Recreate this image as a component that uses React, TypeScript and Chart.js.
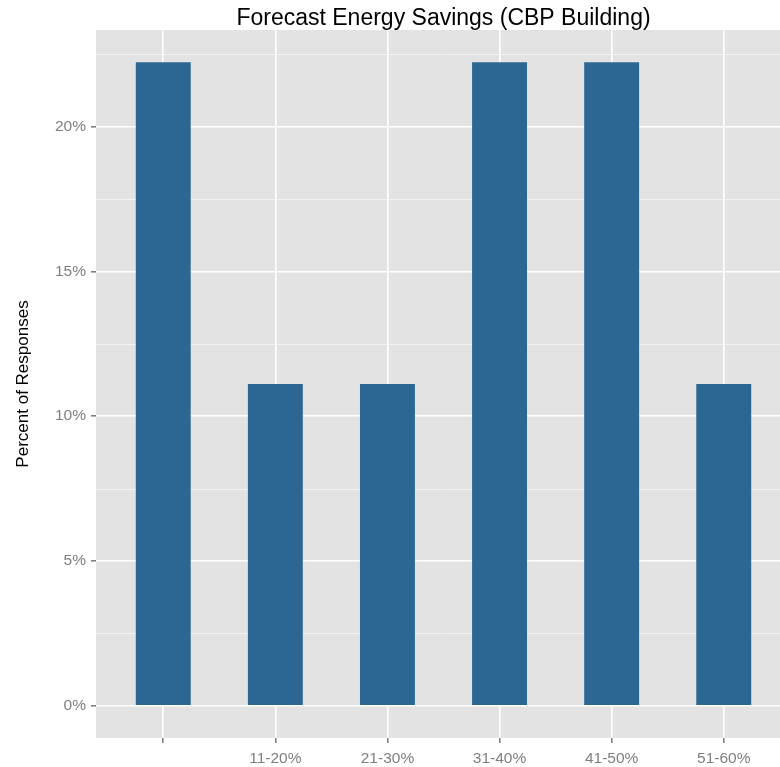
import React, { useEffect, useRef } from "react";
import { Chart, registerables } from "chart.js";

Chart.register(...registerables);

const categories = ["", "11-20%", "21-30%", "31-40%", "41-50%", "51-60%"];
const percentValues = [22.22, 11.11, 11.11, 22.22, 22.22, 11.11];
const yTicks = [0, 5, 10, 15, 20];
const yMinorTicks = [2.5, 7.5, 12.5, 17.5, 22.5];
const titleText = "Forecast Energy Savings (CBP Building)";
const yAxisTitle = "Percent of Responses";

const FONT = '"Liberation Sans", Arial, Helvetica, sans-serif';
const PANEL_BG = "#E3E3E3";
const BAR_COLOR = "#2C6794";
const TICK_COLOR = "#7F7F7F";

const ggPlugin = {
  id: "ggPanel",
  beforeDraw(chart: any) {
    const { ctx, chartArea } = chart;
    const { left, right, top, bottom } = chartArea;
    ctx.save();
    ctx.fillStyle = PANEL_BG;
    ctx.fillRect(left, top, right - left, bottom - top);
    const y = chart.scales.y;
    ctx.strokeStyle = "rgba(255,255,255,0.6)";
    ctx.lineWidth = 1;
    for (const v of yMinorTicks) {
      const py = Math.round(y.getPixelForValue(v)) + 0.5;
      ctx.beginPath();
      ctx.moveTo(left, py);
      ctx.lineTo(right, py);
      ctx.stroke();
    }
    ctx.restore();
  },
  afterDraw(chart: any) {
    const { ctx, chartArea } = chart;
    ctx.save();
    ctx.fillStyle = "#000000";
    ctx.font = `23px ${FONT}`;
    ctx.textAlign = "center";
    ctx.textBaseline = "alphabetic";
    ctx.fillText(titleText, (chartArea.left + chartArea.right) / 2, 25);
    ctx.translate(28, (chartArea.top + chartArea.bottom) / 2);
    ctx.rotate(-Math.PI / 2);
    ctx.font = `17px ${FONT}`;
    ctx.fillText(yAxisTitle, 0, 0);
    ctx.restore();
  },
};

export default function App() {
  const canvasRef = useRef<HTMLCanvasElement | null>(null);

  useEffect(() => {
    if (!canvasRef.current) return;
    const chart = new Chart(canvasRef.current, {
      type: "bar",
      data: {
        datasets: [
          {
            data: percentValues.map((v, i) => ({ x: i, y: v })),
            backgroundColor: BAR_COLOR,
            borderWidth: 0,
            barPercentage: 0.49,
            categoryPercentage: 1,
          },
        ],
      },
      options: {
        animation: false,
        responsive: false,
        maintainAspectRatio: false,
        layout: { padding: { top: 30, left: 0, right: 0, bottom: 0 } },
        plugins: {
          legend: { display: false },
          tooltip: { enabled: false },
          title: { display: false },
        },
        scales: {
          x: {
            type: "linear",
            min: -0.6,
            max: 5.6,
            offset: false,
            afterBuildTicks: (scale: any) => {
              scale.ticks = categories.map((_, i) => ({ value: i }));
            },
            afterFit: (scale: any) => {
              scale.height = 29;
            },
            ticks: {
              color: TICK_COLOR,
              font: { family: FONT, size: 15.5 },
              padding: 6,
              maxRotation: 0,
              autoSkip: false,
              callback: (v: any) => categories[Math.round(Number(v))] ?? "",
            },
            grid: {
              offset: false,
              color: "#FFFFFF",
              lineWidth: 1.6,
              tickColor: TICK_COLOR,
              tickLength: 5,
              drawOnChartArea: true,
            },
            border: { display: false },
          },
          y: {
            type: "linear",
            min: -1.111,
            max: 23.333,
            afterBuildTicks: (scale: any) => {
              scale.ticks = yTicks.map((v) => ({ value: v }));
            },
            afterFit: (scale: any) => {
              scale.width = 96;
            },
            ticks: {
              color: TICK_COLOR,
              font: { family: FONT, size: 15.5 },
              padding: 5,
              callback: (v: any) => `${v}%`,
            },
            grid: {
              color: "#FFFFFF",
              lineWidth: 1.6,
              tickColor: TICK_COLOR,
              tickLength: 5,
            },
            border: { display: false },
          },
        },
      },
      plugins: [ggPlugin],
    });
    return () => chart.destroy();
  }, []);

  return (
    <div
      style={{
        position: "fixed",
        left: 0,
        top: 0,
        width: 780,
        height: 767,
        overflow: "hidden",
        background: "#FFFFFF",
      }}
    >
      <canvas
        ref={canvasRef}
        width={791}
        height={767}
        style={{ display: "block", width: 791, height: 767 }}
      />
    </div>
  );
}
